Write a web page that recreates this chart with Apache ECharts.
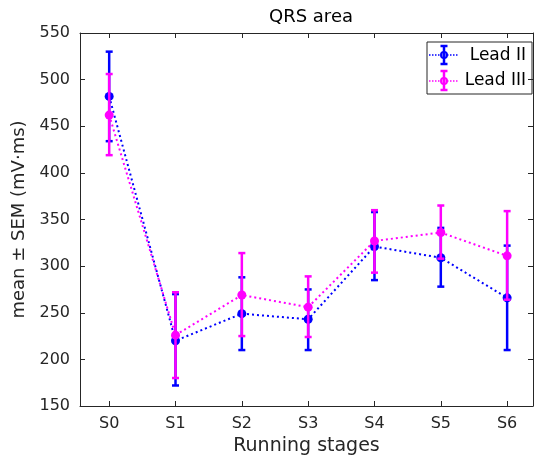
<!DOCTYPE html>
<html>
<head>
<meta charset="utf-8">
<script src="https://cdn.jsdelivr.net/npm/echarts@6/dist/echarts.min.js"></script>
<style>
  html, body { margin: 0; padding: 0; background: #fff; }
  #main { width: 538px; height: 456px; }
</style>
</head>
<body>
<div id="main"></div>
<script>
var stages = ['S0', 'S1', 'S2', 'S3', 'S4', 'S5', 'S6'];
var yTicks = [150, 200, 250, 300, 350, 400, 450, 500, 550];

// Lead II
var lead2Mean = [482, 220, 249, 243, 321, 309, 266];
var lead2Low  = [434, 172, 210, 210, 285, 278, 210];
var lead2High = [530, 270, 288, 275, 358, 341, 322];
// Lead III
var lead3Mean = [462, 226, 269, 256, 327, 336, 311];
var lead3Low  = [419, 180, 225, 224, 293, 308, 264];
var lead3High = [506, 272, 314, 289, 360, 365, 359];

var FONT = 'DejaVu Sans';
var AXIS_COLOR = '#262626';
var BLUE = '#0000ff';
var MAGENTA = '#ff00ff';

var myChart = echarts.init(document.getElementById('main'));

function pairs(arr) {
    return arr.map(function (v, i) { return [i, v]; });
}
function barData(low, high) {
    return low.map(function (v, i) { return [i, v, high[i]]; });
}
// error bars drawn through the axis scale
function errorBar(color) {
    return function (params, api) {
        var x = api.value(0);
        var lo = api.coord([x, api.value(1)]);
        var hi = api.coord([x, api.value(2)]);
        var w = 3.5;
        var style = { stroke: color, lineWidth: 2.5 };
        return {
            type: 'group',
            children: [
                { type: 'line', shape: { x1: lo[0], y1: lo[1], x2: hi[0], y2: hi[1] }, style: style },
                { type: 'line', shape: { x1: lo[0] - w, y1: lo[1], x2: lo[0] + w, y2: lo[1] }, style: style },
                { type: 'line', shape: { x1: hi[0] - w, y1: hi[1], x2: hi[0] + w, y2: hi[1] }, style: style }
            ]
        };
    };
}

var tickVals = stages.map(function (s, i) { return i; });

let option = {
    animation: false,
    title: {
        text: 'QRS area',
        left: 306,
        top: 3,
        textAlign: 'center',
        textStyle: { fontFamily: FONT, fontSize: 18, fontWeight: 'normal', color: '#000' }
    },
    grid: { left: 80, right: 5, top: 33, bottom: 50, outerBoundsMode: 'none' },
    xAxis: [{
        type: 'value',
        min: -0.44,
        max: 6.39,
        name: 'Running stages',
        nameLocation: 'middle',
        nameGap: 23,
        nameTextStyle: { fontFamily: FONT, fontSize: 19, color: AXIS_COLOR },
        axisLine: { onZero: false, lineStyle: { color: AXIS_COLOR } },
        axisTick: { inside: true, length: 5, customValues: tickVals, lineStyle: { color: AXIS_COLOR } },
        axisLabel: {
            customValues: tickVals,
            margin: 10,
            fontFamily: FONT, fontSize: 16, color: AXIS_COLOR,
            formatter: function (v) { return stages[Math.round(v)]; }
        },
        splitLine: { show: false }
    }, {
        type: 'value',
        position: 'top',
        min: -0.44,
        max: 6.39,
        axisLine: { onZero: false, lineStyle: { color: AXIS_COLOR } },
        axisTick: { inside: true, length: 5, customValues: tickVals, lineStyle: { color: AXIS_COLOR } },
        axisLabel: { show: false },
        splitLine: { show: false }
    }],
    yAxis: [{
        type: 'value',
        min: yTicks[0],
        max: yTicks[yTicks.length - 1],
        interval: 50,
        name: 'mean \u00b1 SEM (mV\u00b7ms)',
        nameLocation: 'middle',
        nameGap: 48,
        nameTextStyle: { fontFamily: FONT, fontSize: 18, color: AXIS_COLOR },
        axisLine: { show: true, onZero: false, lineStyle: { color: AXIS_COLOR } },
        axisTick: { show: true, inside: true, length: 5, lineStyle: { color: AXIS_COLOR } },
        axisLabel: { fontFamily: FONT, fontSize: 16, color: AXIS_COLOR, margin: 10 },
        splitLine: { show: false }
    }, {
        type: 'value',
        position: 'right',
        min: yTicks[0],
        max: yTicks[yTicks.length - 1],
        interval: 50,
        axisLine: { show: true, onZero: false, lineStyle: { color: AXIS_COLOR } },
        axisTick: { show: true, inside: true, length: 5, lineStyle: { color: AXIS_COLOR } },
        axisLabel: { show: false },
        splitLine: { show: false }
    }],
    series: [{
        name: 'Lead II',
        type: 'line',
        data: pairs(lead2Mean),
        symbol: 'circle',
        symbolSize: 9,
        itemStyle: { color: BLUE },
        lineStyle: { color: BLUE, width: 2, type: [2, 3] },
        z: 3
    }, {
        name: 'Lead II err',
        type: 'custom',
        data: barData(lead2Low, lead2High),
        renderItem: errorBar(BLUE),
        encode: { x: 0, y: [1, 2] },
        z: 2
    }, {
        name: 'Lead III',
        type: 'line',
        data: pairs(lead3Mean),
        symbol: 'circle',
        symbolSize: 9,
        itemStyle: { color: MAGENTA },
        lineStyle: { color: MAGENTA, width: 2, type: [2, 3] },
        z: 5
    }, {
        name: 'Lead III err',
        type: 'custom',
        data: barData(lead3Low, lead3High),
        renderItem: errorBar(MAGENTA),
        encode: { x: 0, y: [1, 2] },
        z: 4
    }],
    graphic: [{
        type: 'group',
        x: 427,
        y: 42,
        z: 100,
        children: [
            { type: 'rect', shape: { x: 0, y: 0, width: 105, height: 52 }, style: { fill: '#fff', stroke: AXIS_COLOR, lineWidth: 1 } },
            // Lead II icon
            { type: 'line', shape: { x1: 2, y1: 13, x2: 32, y2: 13 }, style: { stroke: BLUE, lineWidth: 1.5, lineDash: [1.5, 1.5] } },
            { type: 'line', shape: { x1: 17, y1: 4, x2: 17, y2: 22 }, style: { stroke: BLUE, lineWidth: 2.5 } },
            { type: 'line', shape: { x1: 13.5, y1: 4, x2: 20.5, y2: 4 }, style: { stroke: BLUE, lineWidth: 2.5 } },
            { type: 'line', shape: { x1: 13.5, y1: 22, x2: 20.5, y2: 22 }, style: { stroke: BLUE, lineWidth: 2.5 } },
            { type: 'circle', shape: { cx: 17, cy: 13, r: 3 }, style: { fill: 'none', stroke: BLUE, lineWidth: 2 } },
            { type: 'text', x: 99, y: 14, style: { text: 'Lead II', align: 'right', verticalAlign: 'middle', fontFamily: FONT, fontSize: 17, fill: '#000' } },
            // Lead III icon
            { type: 'line', shape: { x1: 2, y1: 39, x2: 32, y2: 39 }, style: { stroke: MAGENTA, lineWidth: 1.5, lineDash: [1.5, 1.5] } },
            { type: 'line', shape: { x1: 17, y1: 29, x2: 17, y2: 48 }, style: { stroke: MAGENTA, lineWidth: 2.5 } },
            { type: 'line', shape: { x1: 13.5, y1: 29, x2: 20.5, y2: 29 }, style: { stroke: MAGENTA, lineWidth: 2.5 } },
            { type: 'line', shape: { x1: 13.5, y1: 48, x2: 20.5, y2: 48 }, style: { stroke: MAGENTA, lineWidth: 2.5 } },
            { type: 'circle', shape: { cx: 17, cy: 39, r: 3 }, style: { fill: 'none', stroke: MAGENTA, lineWidth: 2 } },
            { type: 'text', x: 99, y: 39, style: { text: 'Lead III', align: 'right', verticalAlign: 'middle', fontFamily: FONT, fontSize: 17, fill: '#000' } }
        ]
    }]
};

myChart.setOption(option);
</script>
</body>
</html>
